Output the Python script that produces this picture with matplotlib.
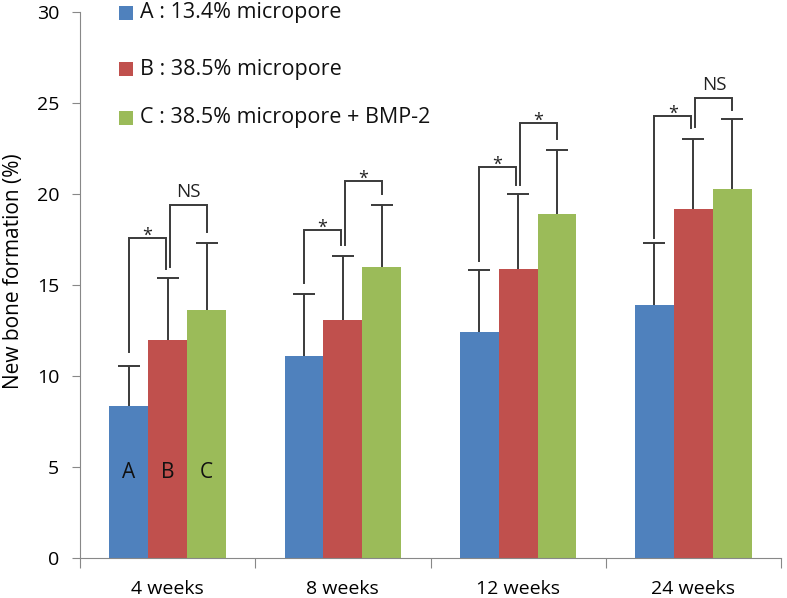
import matplotlib
matplotlib.use("Agg")
import matplotlib.pyplot as plt
from matplotlib.patches import Rectangle
import numpy as np

plt.rcParams['font.family'] = ['Open Sans', 'DejaVu Sans']

categories = ["4 weeks", "8 weeks", "12 weeks", "24 weeks"]
series_names = ["A : 13.4% micropore", "B : 38.5% micropore", "C : 38.5% micropore + BMP-2"]
vals_A = [8.35, 11.1, 12.4, 13.9]
vals_B = [12.0, 13.1, 15.9, 19.2]
vals_C = [13.6, 16.0, 18.9, 20.3]
err_A = [2.2, 3.4, 3.4, 3.4]
err_B = [3.4, 3.5, 4.1, 3.8]
err_C = [3.7, 3.4, 3.5, 3.8]
colors = ["#4F81BD", "#C0504D", "#9BBB59"]

# significance brackets: (left leg bottom, top, right leg bottom, label)
brk_AB = [(11.3, 17.6, 15.9, "*"), (15.1, 18.0, 17.2, "*"), (16.3, 21.5, 20.5, "*"), (17.6, 24.3, 23.6, "*")]
brk_BC = [(16.0, 19.4, 17.9, "NS"), (17.2, 20.7, 20.0, "*"), (20.5, 23.9, 23.0, "*"), (23.7, 25.3, 24.6, "NS")]

fig = plt.figure(figsize=(7.87, 5.98), dpi=100)
ax = fig.add_axes([80/787, 40/598, 701/787, 546/598])

x = np.arange(len(categories))
w = 0.222
line_c = "#3a3a3a"
for k, (vals, errs) in enumerate([(vals_A, err_A), (vals_B, err_B), (vals_C, err_C)]):
    xs = x + (k - 1) * w
    vals = np.array(vals)
    errs = np.array(errs)
    ax.bar(xs, vals, width=w, color=colors[k], zorder=2)
    ax.vlines(xs, vals, vals + errs, color=line_c, lw=1.4, zorder=3)
    ax.plot(xs, vals + errs, ls='none', marker='_', markersize=16, markeredgewidth=1.4,
            color=line_c, zorder=3)

off = 0.012
for i in range(len(categories)):
    for (lb, top, rb, lab), (xl, xr) in [(brk_AB[i], (x[i] - w, x[i] - off)),
                                         (brk_BC[i], (x[i] + off, x[i] + w))]:
        ax.plot([xl, xl, xr, xr], [lb, top, top, rb], color=line_c, lw=1.4, zorder=3,
                solid_joinstyle='miter')
        if lab == "*":
            ax.text((xl + xr) / 2, top - 0.15, "*", ha='center', va='baseline', fontsize=13, color='#222222')
        else:
            ax.text((xl + xr) / 2, top + 0.2, "NS", ha='center', va='bottom', fontsize=13.5, color='#222222')

for k, lab in enumerate(["A", "B", "C"]):
    ax.text(x[0] + (k - 1) * w, 4.7, lab, ha='center', va='center', fontsize=15, color='#111111')

ax.set_xlim(-0.5, 3.5)
ax.set_ylim(0, 30)
ax.set_yticks(range(0, 31, 5))
ax.set_xticks(np.arange(-0.5, 4, 1.0))
ax.set_xticklabels([])
ax.set_xticks(x, minor=True)
ax.set_xticklabels(categories, minor=True)
ax.tick_params(axis='x', which='major', length=7, color='#888888', direction='out')
ax.tick_params(axis='x', which='minor', length=0, pad=16, labelsize=14)
ax.tick_params(axis='y', length=6, color='#888888', pad=9, labelsize=14)
for s in ['top', 'right']:
    ax.spines[s].set_visible(False)
for s in ['left', 'bottom']:
    ax.spines[s].set_color('#888888')
ax.set_ylabel("New bone formation (%)", fontsize=15)
ax.yaxis.set_label_coords(-0.080, 0.526)

# legend (manual, matching the reference layout)
leg_y = [12.5, 69, 118]
for k in range(3):
    yc = 1 - leg_y[k] / 598
    fig.add_artist(Rectangle((119/787, yc - 7/598), 14/787, 14/598, transform=fig.transFigure,
                             facecolor=colors[k], edgecolor='none'))
    fig.text(140/787, yc, series_names[k], ha='left', va='center', fontsize=15.5, color='#111111')

fig.savefig("out.png", dpi=100)
